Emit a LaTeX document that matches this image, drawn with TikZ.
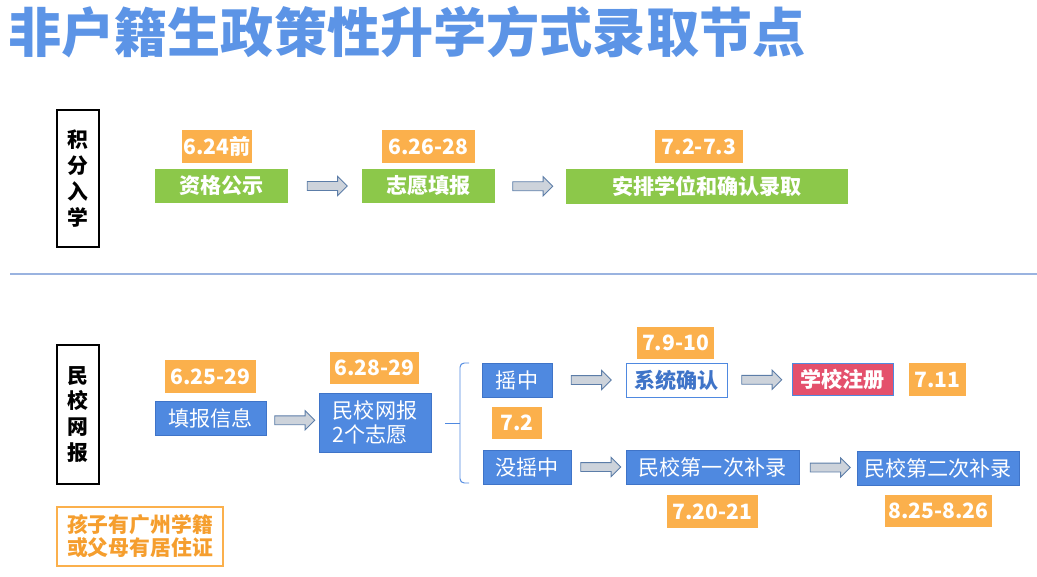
\documentclass[tikz,border=0pt]{standalone}
\usepackage{fontspec}
\setmainfont{Noto Sans CJK SC}
\usepackage{tikz}
\usetikzlibrary{shapes.arrows, positioning, calc}
\definecolor{ptOrange}{HTML}{FBB04C}
\definecolor{ptOrangeText}{HTML}{F59E2E}
\definecolor{ptGreen}{HTML}{8CC84A}
\definecolor{ptBlue}{HTML}{4F89E0}
\definecolor{ptBlueDark}{HTML}{3F74C8}
\definecolor{ptPink}{HTML}{E4506C}
\definecolor{ptTitle}{HTML}{5C94E6}
\definecolor{ptLine}{HTML}{9AB3E0}
\definecolor{ptArrowFill}{HTML}{CDD3DB}
\definecolor{ptArrowDraw}{HTML}{5C7DA8}
\newcommand{\boxfont}{\fontsize{15pt}{17pt}\selectfont}
\newcommand{\sidefont}{\fontsize{14.8pt}{18.4pt}\selectfont}

\begin{document}
\begin{tikzpicture}[
  x=0.025cm, y=-0.025cm,
  datebox/.style={fill=ptOrange, text=white, font=\boxfont\bfseries, minimum height=0.82cm, inner sep=0pt},
  greenbox/.style={fill=ptGreen, text=white, font=\boxfont\bfseries, minimum height=0.85cm, inner sep=0pt},
  bluebox/.style={fill=ptBlue, draw=ptBlueDark, line width=0.6pt, text=white, font=\boxfont, minimum height=0.85cm, inner sep=0pt, align=center},
  sidebox/.style={draw=black, line width=0.9pt, fill=white, font=\sidefont\bfseries, align=center, minimum width=1.05cm, inner sep=0pt},
  blockarrow/.style={single arrow, fill=ptArrowFill, draw=ptArrowDraw, line width=0.6pt, minimum height=1cm, inner xsep=0pt, inner ysep=0.1cm, single arrow head extend=0.13cm}
]
  \useasboundingbox (0,0) rectangle (1037,577);

  \node[anchor=west, inner sep=0pt, text=ptTitle, font=\fontsize{37.8pt}{40pt}\selectfont\bfseries] (title) at (8,32) {非户籍生政策性升学方式录取节点};

  \node[sidebox, minimum height=3.425cm] (jifen) at (78,178.5) {积\\分\\入\\学};
  \node[datebox, minimum width=1.75cm] (d1) at (217,146.5) {6.24前};
  \node[greenbox, minimum width=3.325cm] (zige) at (221.5,186) {资格公示};
  \node[datebox, minimum width=2.325cm] (d2) at (428.5,146.5) {6.26-28};
  \node[greenbox, minimum width=3.325cm] (tianbao) at (428.5,186) {志愿填报};
  \node[datebox, minimum width=2.2cm] (d3) at (699,146.5) {7.2-7.3};
  \node[greenbox, minimum width=7.05cm] (anpai) at (707,186.5) {安排学位和确认录取};

  \node[blockarrow] (ar1) at ($(zige.east)!0.5!(tianbao.west)$) {};
  \node[blockarrow] (ar2) at ($(tianbao.east)!0.5!(anpai.west)$) {};

  \draw[ptLine, line width=0.8pt] (10,274) -- (1037,274);

  \node[sidebox, minimum height=3.475cm] (minxiao) at (78,414.5) {民\\校\\网\\报};
  \node[datebox, minimum width=2.275cm] (d4) at (210.5,376.5) {6.25-29};
  \node[bluebox, minimum width=2.775cm] (xinxi) at (210.5,418) {填报信息};
  \node[datebox, minimum width=2.225cm, minimum height=0.8cm] (d5) at (374.5,368) {6.28-29};
  \node[bluebox, minimum width=2.8cm, minimum height=1.475cm, align=left] (wangbao) at (375,422.5) {民校网报\\2个志愿};

  \draw[ptBlue, line width=0.7pt, rounded corners=3pt] (469,363) -- (460,363) -- (460,483) -- (469,483);
  \draw[ptBlue, line width=0.7pt] (460,423) -- (445,423);

  \node[bluebox, minimum width=1.75cm] (yaozhong) at (517,380) {摇中};
  \node[datebox, minimum width=1.925cm, minimum height=0.8cm] (d6) at (675.5,343) {7.9-10};
  \node[fill=white, draw=ptBlue, line width=0.6pt, text=ptBlueDark, font=\boxfont\bfseries, minimum width=2.525cm, minimum height=0.85cm, inner sep=0pt] (queren) at (676.5,380) {系统确认};
  \node[fill=ptPink, draw=ptBlue, line width=0.6pt, text=white, font=\boxfont\bfseries, minimum width=2.525cm, minimum height=0.82cm, inner sep=0pt] (zhuce) at (842.5,379.5) {学校注册};
  \node[datebox, minimum width=1.425cm] (d7) at (937.5,379.5) {7.11};
  \node[datebox, minimum width=1.25cm, minimum height=0.8cm] (d8) at (517,423) {7.2};
  \node[bluebox, minimum width=2.2cm] (meiyao) at (527,467) {没摇中};
  \node[bluebox, minimum width=4.325cm] (bulu1) at (712.5,467) {民校第一次补录};
  \node[bluebox, minimum width=4.05cm] (bulu2) at (938,468) {民校第二次补录};
  \node[datebox, minimum width=2.275cm] (d9) at (712.5,511.5) {7.20-21};
  \node[datebox, minimum width=2.675cm] (d10) at (938.5,511) {8.25-8.26};

  \node[blockarrow] (ar3) at ($(xinxi.east)!0.5!(wangbao.west)$) {};
  \node[blockarrow] (ar4) at ($(yaozhong.east)!0.5!(queren.west)$) {};
  \node[blockarrow] (ar5) at ($(queren.east)!0.5!(zhuce.west)$) {};
  \node[blockarrow] (ar6) at ($(meiyao.east)!0.5!(bulu1.west)$) {};
  \node[blockarrow] (ar7) at ($(bulu1.east)!0.5!(bulu2.west)$) {};

  \node[draw=ptOrange, line width=0.8pt, text=ptOrangeText, font=\fontsize{14.8pt}{16.3pt}\selectfont\bfseries, align=center, minimum width=4.15cm, minimum height=1.475cm, inner sep=0pt] (tiaojian) at (140,536.5) {孩子有广州学籍\\或父母有居住证};
\end{tikzpicture}
\end{document}
